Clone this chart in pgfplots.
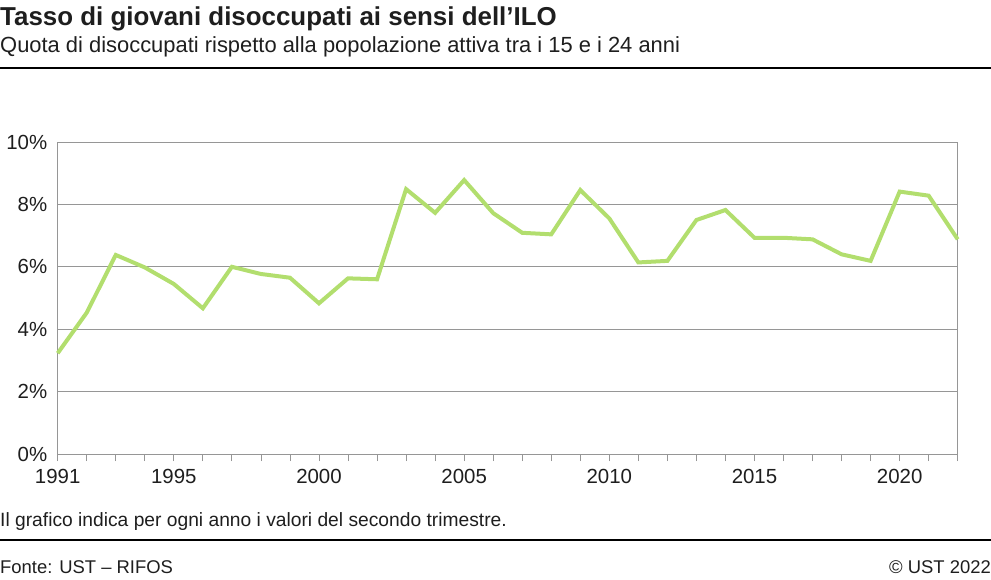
\documentclass[border=0pt]{standalone}
\usepackage{fontspec}
\setmainfont{Liberation Sans}
\usepackage{pgfplots}
\pgfplotsset{compat=1.18}

\definecolor{linegreen}{RGB}{178,222,110}
\definecolor{gridgray}{RGB}{150,150,150}
\definecolor{txt}{RGB}{30,30,30}

\pgfplotstableread{
year rate
1991 3.23
1992 4.53
1993 6.38
1994 5.98
1995 5.45
1996 4.67
1997 6.00
1998 5.77
1999 5.65
2000 4.83
2001 5.63
2002 5.60
2003 8.49
2004 7.73
2005 8.78
2006 7.72
2007 7.09
2008 7.04
2009 8.46
2010 7.55
2011 6.14
2012 6.19
2013 7.50
2014 7.82
2015 6.93
2016 6.93
2017 6.88
2018 6.40
2019 6.19
2020 8.41
2021 8.28
2022 6.88
}\ilodata

\begin{document}
\begin{tikzpicture}[x=1bp,y=1bp]
\path[use as bounding box] (0,0) rectangle (991,-580);

% header
\node[anchor=base west,inner sep=0,text=txt,font=\fontsize{26}{30}\selectfont\bfseries] at (0,-26) {Tasso di giovani disoccupati ai sensi dell’ILO};
\node[anchor=base west,inner sep=0,text=txt,font=\fontsize{22}{26}\selectfont] at (0,-53) {Quota di disoccupati rispetto alla popolazione attiva tra i 15 e i 24 anni};
\draw[black,line width=1.6bp] (0,-68) -- (991,-68);

\begin{axis}[
    scale only axis,
    width=900bp, height=312bp,
    at={(57.7bp,-454bp)}, anchor=south west,
    xmin=1991, xmax=2022,
    ymin=0, ymax=10,
    axis line style={gridgray, line width=1bp},
    xtick={1991,1995,2000,2005,2010,2015,2020},
    minor xtick={1992,...,2022},
    ytick={0,2,...,10},
    yticklabel={\pgfmathprintnumber{\tick}\%},
    xticklabel style={/pgf/number format/1000 sep={}},
    /pgf/number format/assume math mode=true,
    tick label style={text=txt, font=\fontsize{20.5}{24}\selectfont},
    xtick align=outside, xtick pos=bottom, ytick style={draw=none},
    major tick length=7bp, minor tick length=7bp,
    every tick/.style={gridgray, line width=0.8bp},
    xticklabel style={yshift=-5bp},
    yticklabel style={xshift=-7bp,yshift=0bp},
    ymajorgrids,
    major grid style={gridgray, line width=1bp},
    clip=false,
]
    \addplot[linegreen, line width=4bp, line join=miter] table[x=year, y=rate] {\ilodata};
\end{axis}

% footer
\node[anchor=base west,inner sep=0,text=txt,font=\fontsize{19.3}{22}\selectfont] at (0,-526) {Il grafico indica per ogni anno i valori del secondo trimestre.};
\draw[black,line width=1.6bp] (0,-540) -- (991,-540);
\node[anchor=base west,inner sep=0,text=txt,font=\fontsize{18.5}{22}\selectfont] at (0,-573) {Fonte: UST – RIFOS};
\node[anchor=base east,inner sep=0,text=txt,font=\fontsize{18.5}{22}\selectfont] at (991,-573) {© UST 2022};
\end{tikzpicture}
\end{document}
